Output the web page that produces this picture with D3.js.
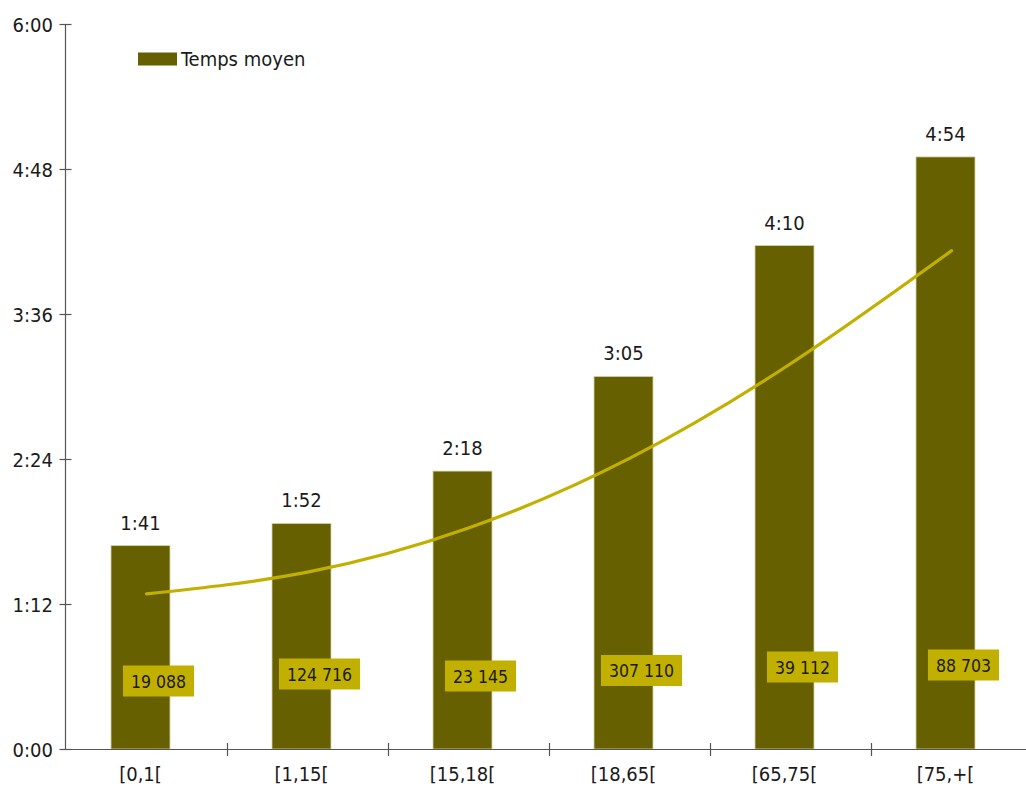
<!DOCTYPE html>
<html>
<head>
<meta charset="utf-8">
<script src="https://cdn.jsdelivr.net/npm/d3@7"></script>
<style>
  html, body { margin: 0; padding: 0; background: #ffffff; }
  svg { display: block; }
  text { font-family: "DejaVu Sans Condensed", "DejaVu Sans", sans-serif; font-stretch: condensed; fill: #1a1a1a; }
</style>
</head>
<body>
<svg id="chart" width="1026" height="788"></svg>
<script>
// ---- data ----
const categories = ["[0,1[", "[1,15[", "[15,18[", "[18,65[", "[65,75[", "[75,+["];
const meanTime = [101, 112, 138, 185, 250, 294];          // minutes (h:mm)
const trendTime = [77.0, 87.8, 109.7, 144.3, 191.3, 247.4]; // trend curve values (minutes)
const counts = [19088, 124716, 23145, 307110, 39112, 88703];
const yTicks = [0, 72, 144, 216, 288, 360];
const seriesName = "Temps moyen";

// ---- layout ----
const W = 1026, H = 788;
const x0 = 66, x1 = 1032, yBase = 749, yTop = 24;
const barW = 59, barShift = -6, boxShift = 12;
const countLabelDy = [16, 9, 11, 5.5, 2, 0]; // label placement tweaks (px)
const barColor = "#666000", accent = "#c2b000", axisColor = "#555555";

const svg = d3.select("#chart");
const x = d3.scaleBand().domain(categories).range([x0, x1]).padding(0);
const y = d3.scaleLinear().domain([0, 360]).range([yBase, yTop]);
const fmt = m => Math.floor(m / 60) + ":" + String(Math.round(m % 60)).padStart(2, "0");
const fmtCount = n => String(n).replace(/\B(?=(\d{3})+(?!\d))/g, " ");
const cx = c => x(c) + x.bandwidth() / 2;

// bars
svg.append("g").selectAll("rect").data(categories).join("rect")
  .attr("x", (c) => cx(c) + barShift - barW / 2)
  .attr("y", (c, i) => y(meanTime[i]))
  .attr("width", barW)
  .attr("height", (c, i) => yBase - y(meanTime[i]))
  .attr("fill", barColor)
  .attr("stroke", "#d8d2a8").attr("stroke-width", 0.8);

// value labels
svg.append("g").selectAll("text").data(categories).join("text")
  .attr("x", c => cx(c) + barShift)
  .attr("y", (c, i) => y(meanTime[i]) - 16)
  .attr("text-anchor", "middle")
  .style("font-size", "20px")
  .text((c, i) => fmt(meanTime[i]));

// trend line
const line = d3.line().x((d, i) => cx(categories[i])).y(d => y(d)).curve(d3.curveNatural);
svg.append("path").datum(trendTime)
  .attr("d", line).attr("fill", "none")
  .attr("stroke", accent).attr("stroke-width", 3.2).attr("stroke-linecap", "round");

// count labels with boxes
const lg = svg.append("g");
categories.forEach((c, i) => {
  const g = lg.append("g");
  const cxp = cx(c) + boxShift;
  const cyp = 665 + countLabelDy[i];
  const t = g.append("text")
    .attr("x", cxp).attr("y", cyp + 6.5)
    .attr("text-anchor", "middle")
    .style("font-size", "17.5px")
    .text(fmtCount(counts[i]));
  const tw = t.node().getComputedTextLength();
  g.insert("rect", "text")
    .attr("x", cxp - tw / 2 - 8).attr("y", cyp - 15.5)
    .attr("width", tw + 16).attr("height", 31)
    .attr("fill", accent);
});

// y axis
const yAxis = svg.append("g");
yAxis.append("line").attr("x1", 65.5).attr("x2", 65.5).attr("y1", yTop).attr("y2", yBase)
  .attr("stroke", axisColor).attr("stroke-width", 1.2);
yAxis.selectAll("line.t").data(yTicks).join("line").attr("class", "t")
  .attr("x1", 59.5).attr("x2", 71.5)
  .attr("y1", d => Math.round(y(d)) + 0.5).attr("y2", d => Math.round(y(d)) + 0.5)
  .attr("stroke", axisColor).attr("stroke-width", 1.2);
yAxis.selectAll("text").data(yTicks).join("text")
  .attr("x", 53).attr("y", d => y(d) + 7.5)
  .attr("text-anchor", "end")
  .style("font-size", "20px")
  .text(fmt);

// x axis
const xAxis = svg.append("g");
xAxis.append("line").attr("x1", 60).attr("x2", W).attr("y1", yBase + 0.5).attr("y2", yBase + 0.5)
  .attr("stroke", axisColor).attr("stroke-width", 1.2);
xAxis.selectAll("line.t").data(categories.slice(1)).join("line").attr("class", "t")
  .attr("x1", c => Math.round(x(c)) + 0.5).attr("x2", c => Math.round(x(c)) + 0.5)
  .attr("y1", yBase - 6).attr("y2", yBase + 7)
  .attr("stroke", axisColor).attr("stroke-width", 1.2);
xAxis.selectAll("text").data(categories).join("text")
  .attr("x", c => cx(c) + barShift)
  .attr("y", 781)
  .attr("text-anchor", "middle")
  .style("font-size", "20px")
  .text(c => c);

// legend
const leg = svg.append("g");
leg.append("rect").attr("x", 138).attr("y", 52.5).attr("width", 39).attr("height", 13).attr("fill", barColor);
leg.append("text").attr("x", 181).attr("y", 65.5).style("font-size", "20px").text(seriesName);
</script>
</body>
</html>
